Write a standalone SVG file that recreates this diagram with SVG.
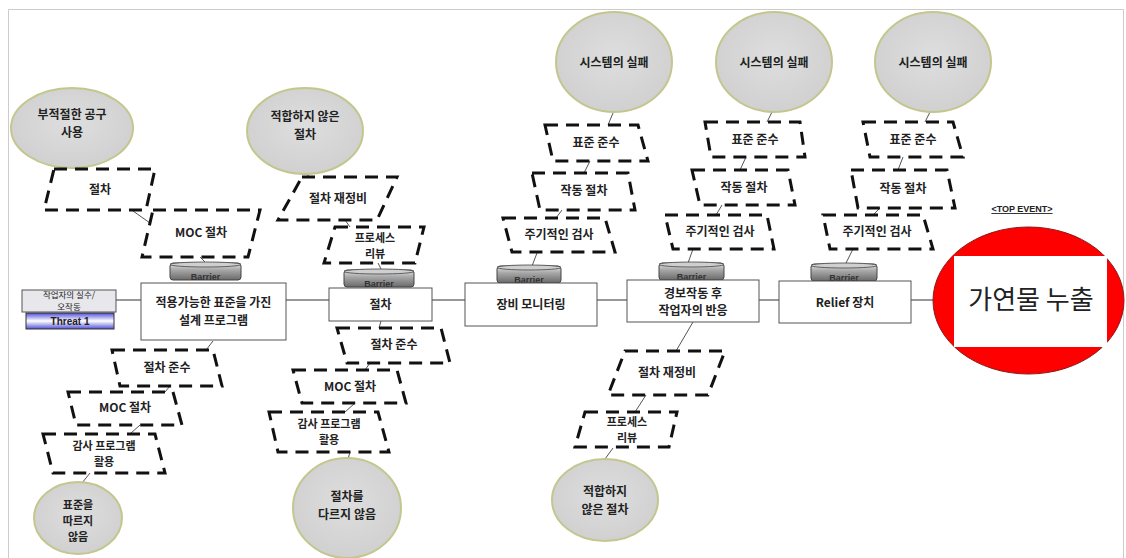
<svg xmlns="http://www.w3.org/2000/svg" width="1126" height="558" viewBox="0 0 1126 558">
<style>
text{font-family:"Noto Sans CJK KR","Noto Sans",sans-serif;fill:#222;}
.lbl{font-size:12px;font-weight:bold;text-anchor:middle;}
.sm{font-size:11px;}
.box{fill:#fff;stroke:#555;stroke-width:1;}
.para{fill:#fff;stroke:#111;stroke-width:3;stroke-dasharray:13 8;}
.circ{fill:url(#cg);stroke:#c3c78e;stroke-width:2;}
.main{stroke:#777;stroke-width:1.5;fill:none;}
.con{stroke:#555;stroke-width:1;fill:none;}
.bar{fill:url(#bg);stroke:#444;stroke-width:1;}
.bartop{fill:#cfcfcf;stroke:#444;stroke-width:0.8;}
.bt{font-size:9px;font-weight:bold;text-anchor:middle;fill:#333;font-family:"Liberation Sans",sans-serif;}
</style>
<defs>
<radialGradient id="cg" cx="50%" cy="45%" r="60%"><stop offset="0" stop-color="#dedede"/><stop offset="1" stop-color="#cfcfcf"/></radialGradient>
<linearGradient id="bg" x1="0" y1="0" x2="0" y2="1"><stop offset="0" stop-color="#e6e6e6"/><stop offset="0.4" stop-color="#a8a8a8"/><stop offset="1" stop-color="#6a6a6a"/></linearGradient>
<linearGradient id="tg" x1="0" y1="0" x2="0" y2="1"><stop offset="0" stop-color="#5050d8"/><stop offset="0.5" stop-color="#ffffff"/><stop offset="1" stop-color="#5050d8"/></linearGradient>
</defs>
<rect width="1126" height="558" fill="#fff"/>
<path d="M8.5 558 V9.5 H1123.5 V558" fill="none" stroke="#cccccc" stroke-width="1"/>
<g id="connectors">
<path class="main" d="M116 300 H141 M286 300 H329 M432 300 H465 M597 300 H627 M759 300 H779 M911 300 H933"/>
<path class="con" d="M71 167 L76 170 M133 211 L150 223 M200 257 L205 262"/>
<path class="con" d="M305 173 L310 177 M345 220 L350 227 M378 263 L381 269"/>
<path class="con" d="M613 113 L608 125 M590 161 L584 173 M562 210 L556 218 M537 253 L532 266"/>
<path class="con" d="M772 112 L767 122 M746 157 L740 170 M722 205 L716 215 M693 249 L688 263"/>
<path class="con" d="M930 112 L925 122 M903 157 L898 170 M880 208 L873 215 M853 249 L846 263"/>
<path class="con" d="M213 341 L206 350 M170 386 L165 392 M140 425 L130 434 M90 473 L82 483"/>
<path class="con" d="M381 321 L379 328 M370 363 L365 370 M355 403 L345 412 M350 452 L348 459"/>
<path class="con" d="M693 322 L676 351 M646 395 L635 412 M613 448 L605 459"/>
</g>
<g id="threat">
<rect x="22" y="290" width="94" height="22" fill="#e7e7ec" stroke="#555" stroke-width="1"/>
<text x="69" y="298" font-size="8.5" text-anchor="middle">작업자의 실수/</text>
<text x="69" y="310" font-size="8.5" text-anchor="middle">오작동</text>
<rect x="26" y="313" width="88" height="16" fill="url(#tg)" stroke="#333" stroke-width="1"/>
<text x="70" y="325" font-size="10" font-weight="bold" text-anchor="middle" fill="#1a1a50" style="font-family:'Liberation Sans',sans-serif">Threat 1</text>
</g>
<g id="barrier1"><rect class="bar" x="170" y="263" width="71" height="17" rx="3"/><ellipse class="bartop" cx="205.5" cy="264.5" rx="35.5" ry="2.5"/><text class="bt" x="205.5" y="280">Barrier</text></g>
<g id="barrier2"><rect class="bar" x="344" y="270" width="70" height="17" rx="3"/><ellipse class="bartop" cx="379" cy="271.5" rx="35" ry="2.5"/><text class="bt" x="379" y="287">Barrier</text></g>
<g id="barrier3"><rect class="bar" x="497" y="266" width="64" height="17" rx="3"/><ellipse class="bartop" cx="529" cy="267.5" rx="32" ry="2.5"/><text class="bt" x="529" y="283">Barrier</text></g>
<g id="barrier4"><rect class="bar" x="659" y="263" width="65" height="17" rx="3"/><ellipse class="bartop" cx="691.5" cy="264.5" rx="32.5" ry="2.5"/><text class="bt" x="691.5" y="280">Barrier</text></g>
<g id="barrier5"><rect class="bar" x="811" y="264" width="66" height="17" rx="3"/><ellipse class="bartop" cx="844" cy="265.5" rx="33" ry="2.5"/><text class="bt" x="844" y="281">Barrier</text></g>
<g id="box1"><rect class="box" x="141" y="283" width="145" height="57"/><text class="lbl" x="213.5" y="307" font-size="13">적용가능한 표준을 가진</text><text class="lbl" x="213.5" y="325" font-size="13">설계 프로그램</text></g>
<g id="box2"><rect class="box" x="329" y="288" width="103" height="33"/><text class="lbl" x="380.5" y="309" font-size="13">절차</text></g>
<g id="box3"><rect class="box" x="465" y="283" width="132" height="43"/><text class="lbl" x="531" y="309" font-size="13">장비 모니터링</text></g>
<g id="box4"><rect class="box" x="627" y="280" width="132" height="42"/><text class="lbl" x="693" y="298">경보작동 후</text><text class="lbl" x="693" y="315">작업자의 반응</text></g>
<g id="box5"><rect class="box" x="779" y="281" width="132" height="42"/><text class="lbl" x="845" y="307" font-size="13">Relief 장치</text></g>
<g id="top-event">
<ellipse cx="1028.5" cy="300.5" rx="95.5" ry="73.5" fill="#ff0000" stroke="#8a1a1a" stroke-width="1"/>
<rect x="954" y="256" width="153" height="91" fill="#fff"/>
<text x="1031" y="309" font-size="26" text-anchor="middle" fill="#111">가연물 누출</text>
<text x="1022" y="212" font-size="9" font-weight="bold" text-anchor="middle" text-decoration="underline" style="font-family:'Liberation Sans',sans-serif">&lt;TOP EVENT&gt;</text>
</g>
<g id="c1"><ellipse class="circ" cx="72" cy="128" rx="61" ry="40"/><text class="lbl" x="72" y="119">부적절한 공구</text><text class="lbl" x="72" y="137">사용</text></g>
<g id="p1"><polygon class="para" points="54,169 155,169 146,210 44,210"/><text class="lbl" x="100" y="194">절차</text></g>
<g id="p2"><polygon class="para" points="153,210 260,210 248,257 142,257"/><text class="lbl" x="201" y="237">MOC 절차</text></g>
<g id="c2"><ellipse class="circ" cx="305" cy="131" rx="58" ry="43"/><text class="lbl" x="305" y="121">적합하지 않은</text><text class="lbl" x="305" y="139">절차</text></g>
<g id="p3"><polygon class="para" points="302,177 397,177 377,220 278,220"/><text class="lbl" x="338" y="203">절차 재정비</text></g>
<g id="p4"><polygon class="para" points="335,227 424,227 415,263 324,263"/><text class="lbl sm" x="375" y="242">프로세스</text><text class="lbl sm" x="375" y="258">리뷰</text></g>
<g id="c3"><ellipse class="circ" cx="614" cy="62" rx="58" ry="50"/><text class="lbl" x="614" y="67">시스템의 실패</text></g>
<g id="p5"><polygon class="para" points="545,125 638,125 648,161 553,161"/><text class="lbl" x="596" y="147">표준 준수</text></g>
<g id="p6"><polygon class="para" points="532,173 628,173 635,210 540,210"/><text class="lbl" x="584" y="195">작동 절차</text></g>
<g id="p7"><polygon class="para" points="503,218 605,218 615,252 512,252"/><text class="lbl" x="559" y="239">주기적인 검사</text></g>
<g id="c4"><ellipse class="circ" cx="774" cy="62" rx="58" ry="50"/><text class="lbl" x="774" y="67">시스템의 실패</text></g>
<g id="p8"><polygon class="para" points="705,122 800,122 805,157 711,157"/><text class="lbl" x="755" y="144">표준 준수</text></g>
<g id="p9"><polygon class="para" points="692,170 788,170 795,205 700,205"/><text class="lbl" x="744" y="192">작동 절차</text></g>
<g id="p10"><polygon class="para" points="665,215 767,215 774,249 673,249"/><text class="lbl" x="720" y="236">주기적인 검사</text></g>
<g id="c5"><ellipse class="circ" cx="933" cy="62" rx="58" ry="50"/><text class="lbl" x="933" y="67">시스템의 실패</text></g>
<g id="p11"><polygon class="para" points="863,122 953,122 963,157 870,157"/><text class="lbl" x="913" y="144">표준 준수</text></g>
<g id="p12"><polygon class="para" points="851,170 947,170 955,208 858,208"/><text class="lbl" x="903" y="193">작동 절차</text></g>
<g id="p13"><polygon class="para" points="823,215 923,215 933,249 830,249"/><text class="lbl" x="877" y="236">주기적인 검사</text></g>
<g id="p14"><polygon class="para" points="112,350 213,350 222,386 120,386"/><text class="lbl" x="167" y="372">절차 준수</text></g>
<g id="p15"><polygon class="para" points="68,392 173,392 182,425 76,425"/><text class="lbl" x="125" y="412">MOC 절차</text></g>
<g id="p16"><polygon class="para" points="43,434 155,434 165,473 53,473"/><text class="lbl sm" x="104" y="450">감사 프로그램</text><text class="lbl sm" x="104" y="466">활용</text></g>
<g id="c6"><ellipse class="circ" cx="78" cy="518" rx="44" ry="36"/><text class="lbl sm" x="78" y="509">표준을</text><text class="lbl sm" x="78" y="525">따르지</text><text class="lbl sm" x="78" y="541">않음</text></g>
<g id="p17"><polygon class="para" points="337,328 441,328 450,363 347,363"/><text class="lbl" x="394" y="349">절차 준수</text></g>
<g id="p18"><polygon class="para" points="293,370 397,370 406,403 302,403"/><text class="lbl" x="350" y="391">MOC 절차</text></g>
<g id="p19"><polygon class="para" points="269,412 378,412 389,452 278,452"/><text class="lbl sm" x="329" y="428">감사 프로그램</text><text class="lbl sm" x="329" y="444">활용</text></g>
<g id="c7"><ellipse class="circ" cx="347" cy="508" rx="54" ry="50"/><text class="lbl" x="347" y="501">절차를</text><text class="lbl" x="347" y="519">다르지 않음</text></g>
<g id="p20"><polygon class="para" points="625,351 725,351 708,395 608,395"/><text class="lbl" x="667" y="377">절차 재정비</text></g>
<g id="p21"><polygon class="para" points="585,412 677,412 669,447 575,447"/><text class="lbl sm" x="627" y="426">프로세스</text><text class="lbl sm" x="627" y="442">리뷰</text></g>
<g id="c8"><ellipse class="circ" cx="605" cy="500" rx="53" ry="41"/><text class="lbl" x="605" y="496">적합하지</text><text class="lbl" x="605" y="514">않은 절차</text></g>
</svg>
